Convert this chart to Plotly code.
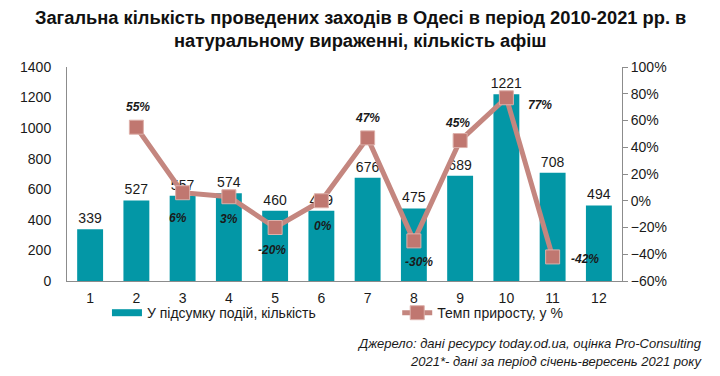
import plotly.graph_objects as go

categories = list(range(1, 13))
events = [339, 527, 557, 574, 460, 459, 676, 475, 689, 1221, 708, 494]
growth = [None, 0.55, 0.06, 0.03, -0.20, 0.00, 0.47, -0.30, 0.45, 0.77, -0.42, None]
growth_labels = ["", "55%", "6%", "3%", "-20%", "0%", "47%", "-30%", "45%", "77%", "-42%", ""]

title_line1 = "Загальна кількість проведених заходів в Одесі в період 2010-2021 рр. в"
title_line2 = "натуральному вираженні, кількість афіш"
bar_name = "У підсумку подій, кількість"
line_name = "Темп приросту, у %"
source1 = "Джерело: дані ресурсу today.od.ua, оцінка Pro-Consulting"
source2 = "2021*- дані за період січень-вересень 2021 року"

# label offsets (pixels) relative to markers -- styling only
label_dx = [0, 2, -5, 0, -3, 2, 0, 5, -3, 34, 32, 0]
label_dy = [0, 20, -25, -22, -22, -25, 20, -21, 18, -7, -2, 0]

FONT = "Liberation Sans, Arial, sans-serif"
TEAL = "#0397A6"
ROSE = "#C4867F"

fig = go.Figure()
fig.add_trace(go.Bar(
    x=categories, y=events, name=bar_name, showlegend=False,
    marker=dict(color=TEAL, line=dict(width=0)),
    width=0.56,
    text=[str(v) for v in events], textposition="outside",
    constraintext="none",
    textfont=dict(size=14, color="#1a1a1a", family=FONT),
    cliponaxis=False,
))
fig.add_trace(go.Scatter(
    x=[None], y=[None], name=bar_name, mode="lines",
    line=dict(color=TEAL, width=7), showlegend=True, legend="legend",
))
fig.add_trace(go.Scatter(
    x=categories, y=growth, name=line_name, yaxis="y2",
    mode="lines+markers",
    line=dict(color=ROSE, width=5),
    marker=dict(symbol="square", size=14, color="#C07770",
                line=dict(color="#DDB0AA", width=1)),
    cliponaxis=False, legend="legend2",
))

annotations = []
for c, g, t, dx, dy in zip(categories, growth, growth_labels, label_dx, label_dy):
    if g is None:
        continue
    annotations.append(dict(
        x=c, y=g, xref="x", yref="y2", text="<b><i>" + t + "</i></b>",
        showarrow=False, xshift=dx, yshift=dy, xanchor="center", yanchor="middle",
        font=dict(size=12, color="#1a1a1a", family=FONT)))

annotations += [
    dict(text="<b>" + title_line1 + "</b>", xref="paper", yref="paper", x=0.528, y=1.229,
         xanchor="center", yanchor="middle", showarrow=False,
         font=dict(size=18.3, color="#111111", family=FONT)),
    dict(text="<b>" + title_line2 + "</b>", xref="paper", yref="paper", x=0.528, y=1.126,
         xanchor="center", yanchor="middle", showarrow=False,
         font=dict(size=18.3, color="#111111", family=FONT)),
    dict(text="<i>" + source1 + "</i>", xref="paper", yref="paper", x=1.148, y=-0.29,
         xanchor="right", yanchor="middle", showarrow=False,
         font=dict(size=13, color="#1a1a1a", family=FONT)),
    dict(text="<i>" + source2 + "</i>", xref="paper", yref="paper", x=1.148, y=-0.378,
         xanchor="right", yanchor="middle", showarrow=False,
         font=dict(size=13, color="#1a1a1a", family=FONT)),
]

legend_style = dict(orientation="h", xanchor="left", y=-0.15, yanchor="middle",
                    font=dict(size=14, family=FONT, color="#1a1a1a"),
                    bgcolor="rgba(0,0,0,0)", itemwidth=30)

fig.update_layout(
    width=712, height=368,
    margin=dict(l=59, r=98, t=59, b=95),
    paper_bgcolor="white", plot_bgcolor="white",
    font=dict(family=FONT, color="#1a1a1a", size=14),
    showlegend=True,
    legend=dict(x=0.072, **legend_style),
    legend2=dict(x=0.595, **legend_style),
    xaxis=dict(range=[0.5, 12.5], tickmode="array", tickvals=categories,
               ticktext=[str(c) for c in categories], showline=True, linecolor="#8c8c8c",
               linewidth=1, ticks="", showgrid=False, zeroline=False, ticklabelstandoff=4,
               tickfont=dict(size=14, color="#1a1a1a")),
    yaxis=dict(range=[0, 1400], dtick=200, showline=True, linecolor="#8c8c8c",
               linewidth=1, ticks="", showgrid=False, zeroline=False,
               ticklabelstandoff=12,
               tickfont=dict(size=14, color="#1a1a1a")),
    yaxis2=dict(range=[-0.6, 1.0], dtick=0.2, tickformat=".0%", overlaying="y",
                side="right", showline=True, linecolor="#8c8c8c", linewidth=1,
                ticks="outside", ticklen=5, tickcolor="#8c8c8c",
                showgrid=False, zeroline=False,
                tickfont=dict(size=14, color="#1a1a1a")),
    annotations=annotations,
)

fig.write_html("out.html")
